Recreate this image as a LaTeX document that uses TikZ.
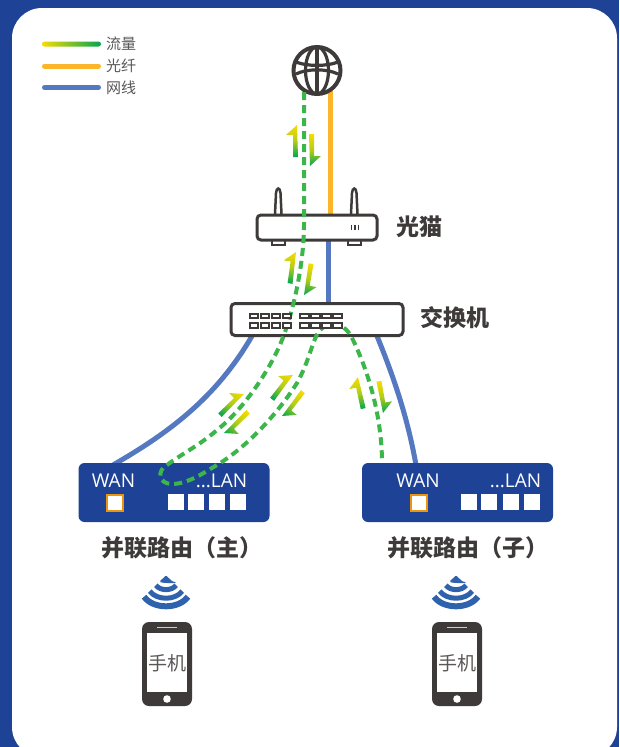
\documentclass[tikz,border=0pt]{standalone}
\usepackage{fontspec}
\newfontfamily\cjk{Noto Sans CJK SC}
\newfontfamily\latinf{Open Sans}
\newcommand{\fsz}[1]{\fontsize{#1}{#1}\selectfont}
\definecolor{bgblue}{HTML}{1E4396}
\definecolor{dark}{HTML}{3E3A39}
\definecolor{netblue}{HTML}{5479C1}
\definecolor{fiber}{HTML}{FBB62C}
\definecolor{flowg}{HTML}{3CB54A}
\definecolor{yel}{HTML}{F7DC00}
\definecolor{grn}{HTML}{00A651}
\definecolor{txtgray}{HTML}{595757}
\definecolor{portor}{HTML}{E8950F}
\definecolor{wifiblue}{HTML}{2F62AC}
\tikzset{
  x=1pt,y=-1pt,
  devbox/.style={draw=dark,line width=3pt,fill=white,rounded corners=4pt,inner sep=0pt,outer sep=0pt,anchor=north west},
  routerbox/.style={fill=bgblue,rounded corners=6pt,inner sep=0pt,outer sep=0pt,anchor=north west,minimum width=191pt,minimum height=59pt},
  wire/.style={line width=5pt,color=netblue},
  fiberline/.style={line width=5pt,color=fiber},
  flowpath/.style={line width=4pt,color=flowg,dash pattern=on 8pt off 5pt},
  legendline/.style={line width=5pt,line cap=round},
  legendtext/.style={font=\cjk\fsz{15},text=txtgray,anchor=west,inner sep=0pt},
  title/.style={font=\cjk\bfseries\fsz{23},text=dark,inner sep=0pt},
  porttext/.style={font=\latinf\fsz{19},text=white,inner sep=0pt},
  lanport/.style={fill=white,minimum size=16pt,inner sep=0pt,outer sep=0pt,anchor=north west},
  wanport/.style={fill=white,draw=portor,line width=2pt,minimum size=16pt,inner sep=0pt,anchor=north west},
  swport/.style={draw=dark,line width=2pt,fill=white,minimum width=8.5pt,minimum height=4.5pt,inner sep=0pt,anchor=north west},
  dev/.style={draw=dark,line width=3pt},
}
\newcommand{\flowarrow}[5]{\begin{scope}[transform canvas={shift={(#1,#2)},rotate=#3}]
  \shade[top color=#4,bottom color=#5,middle color=yel!72!grn] (0,0)--(-11,10)--(-4,10)--(-4,32)--(1,32)--cycle;
\end{scope}}
\newcommand{\wifi}[2]{%
  \fill[wifiblue,rounded corners=1pt] (#1,#2) -- ++(-6.5,6) .. controls ++(3,2) and ++(10,2) .. ++(13,0) -- cycle;
  \foreach \r/\w in {14/5,22.5/5,30.5/6}{
    \draw[wifiblue,line width=\w pt] ({#1-\r*sin(46)},{#2+\r*cos(46)}) .. controls ({#1-\r*sin(46)+\r*0.3},{#2+\r*cos(46)+\r*0.42}) and ({#1+\r*sin(46)-\r*0.3},{#2+\r*cos(46)+\r*0.42}) .. ({#1+\r*sin(46)},{#2+\r*cos(46)});
  }}
\newcommand{\phone}[2]{%
  \fill[dark,rounded corners=7pt] (#1-25,622) rectangle (#1+25,706);
  \fill[white] (#1-20,633) rectangle (#1+20,692);
  \draw[white!75!dark,line width=1pt] (#1-10,627.5) -- (#1+10,627.5);
  \fill[white] (#1,699) circle (3.8);
  \node[font=\cjk\fsz{19},text=dark!85!white,inner sep=0pt] (#2) at (#1,663.5) {手机};
}
\begin{document}
\begin{tikzpicture}
\useasboundingbox (0,0) rectangle (619,747);
\fill[bgblue] (0,0) rectangle (619,747);
\begin{scope}
\clip (0,0) rectangle (619,747);
\fill[white,rounded corners=30pt] (12,8) rectangle (617,757);
\end{scope}

% legend
\shade[left color=yel,right color=grn,rounded corners=2.5pt] (42,41.5) rectangle (101,46.5);
\draw[legendline,fiber] (44.5,66) -- (98.5,66);
\draw[legendline,netblue] (44.5,87.5) -- (98.5,87.5);
\node[legendtext] (lg1) at (106,44) {流量};
\node[legendtext] (lg2) at (106,65.5) {光纤};
\node[legendtext] (lg3) at (106,88) {网线};

% anchor points of the connectors
\coordinate (gOut) at (330,90);
\coordinate (mIn) at (330,216);
\coordinate (mOut) at (328,240);
\coordinate (sIn) at (328,304);
\coordinate (sL) at (252,336);
\coordinate (sR) at (377,336);
\coordinate (rL) at (113,465);
\coordinate (rR) at (416,465);

% cables
\draw[fiberline] (gOut) -- (mIn);
\draw[wire] (mOut) -- (sIn);
\draw[wire] (sL) .. controls (215,400) and (165,435) .. (rL);
\draw[wire] (sR) .. controls (395,380) and (408,420) .. (rR);

% globe
\node[circle,draw=dark,line width=4pt,fill=white,minimum size=47pt,inner sep=0pt] (globe) at (317,70.5) {};
\draw[dark,line width=3.2pt] (317,70.5) ellipse[x radius=11.5,y radius=23.5];
\draw[dark,line width=3.2pt] (317,47) -- (317,94);
\draw[dark,line width=3.2pt] (296,62) .. controls (307,66.5) and (327,66.5) .. (338,62);
\draw[dark,line width=3.2pt] (296,74) .. controls (307,68.5) and (327,68.5) .. (338,74);

% modem
\draw[dev,line width=2.5pt,fill=white] (275,214) -- (276,193) .. controls (276.5,187) and (280,187) .. (280.5,193) -- (281.5,214);
\draw[dev,line width=2.5pt,fill=white] (351,214) -- (352,193) .. controls (352.5,187) and (356,187) .. (356.5,193) -- (357.5,214);
\draw[dev,line width=2pt,fill=white] (272,240) rectangle (285,245);
\draw[dev,line width=2pt,fill=white] (348,240) rectangle (361,245);
\node[devbox,minimum width=120pt,minimum height=25pt] (modem) at (257,215) {};
\foreach \x in {351.5,355,358.5}{\draw[dark,line width=1.5pt] (\x,224.5) -- (\x,230);}
\node[title] (modemlabel) at (419.5,227) {光猫};

% switch
\node[devbox,minimum width=172pt,minimum height=32pt] (switch) at (231,303.5) {};
\node[title] (switchlabel) at (455,318) {交换机};

% routers
\node[routerbox] (routerA) at (78.5,463) {};
\node[routerbox] (routerB) at (362,463) {};
\node[porttext] (wanA) at (113.5,481) {WAN};
\node[porttext] (lanA) at (221.5,481) {...LAN};
\node[porttext] (wanB) at (418,481) {WAN};
\node[porttext] (lanB) at (515.5,481) {...LAN};
\node[wanport] (wpA) at (106,494) {};
\node[wanport] (wpB) at (410,494) {};
\foreach \x [count=\i] in {168,188,209,230}{\node[lanport] (la\i) at (\x,494) {};}
\foreach \x [count=\i] in {461,481,503,524}{\node[lanport] (lb\i) at (\x,494) {};}
\node[title] (labelA) at (181.5,548) {并联路由（主）};
\node[title] (labelB) at (468,548) {并联路由（子）};

% traffic
\coordinate (fStart) at (304,92);
\coordinate (fEnd) at (382,463);
\draw[flowpath] (fStart) -- (304,225) .. controls (304,262) and (294,310) .. (282,340)
  .. controls (270,370) and (243,410) .. (217,430)
  .. controls (200,445) and (180,455) .. (167,465)
  .. controls (157,470) and (158,484) .. (172,484)
  .. controls (188,484) and (205,472) .. (217,465)
  .. controls (250,445) and (280,410) .. (297,383)
  .. controls (310,360) and (312,340) .. (320,330)
  .. controls (330,320) and (345,322) .. (353,340)
  .. controls (370,375) and (382,420) .. (fEnd);

% switch ports, over the traffic line
\foreach \x in {248.5,259.5,270.5,281.5,299,310,321,332}{
  \node[swport] (p\x a) at (\x,312.5) {};
  \node[swport] (p\x b) at (\x,322) {};
}

\flowarrow{297}{125}{0}{yel}{grn}
\flowarrow{310}{166}{180}{grn}{yel}
\flowarrow{296}{252}{-8}{yel}{grn}
\flowarrow{304}{295}{170}{grn}{yel}
\flowarrow{244}{394}{-46}{yel}{grn}
\flowarrow{224}{433}{134}{grn}{yel}
\flowarrow{293}{375}{-38}{yel}{grn}
\flowarrow{282}{416}{142}{grn}{yel}
\flowarrow{358}{377}{12}{yel}{grn}
\flowarrow{383}{413}{190}{grn}{yel}

% phones
\wifi{166}{575.5}
\wifi{456}{575.5}
\phone{167}{phoneA}
\phone{457}{phoneB}
\end{tikzpicture}
\end{document}
